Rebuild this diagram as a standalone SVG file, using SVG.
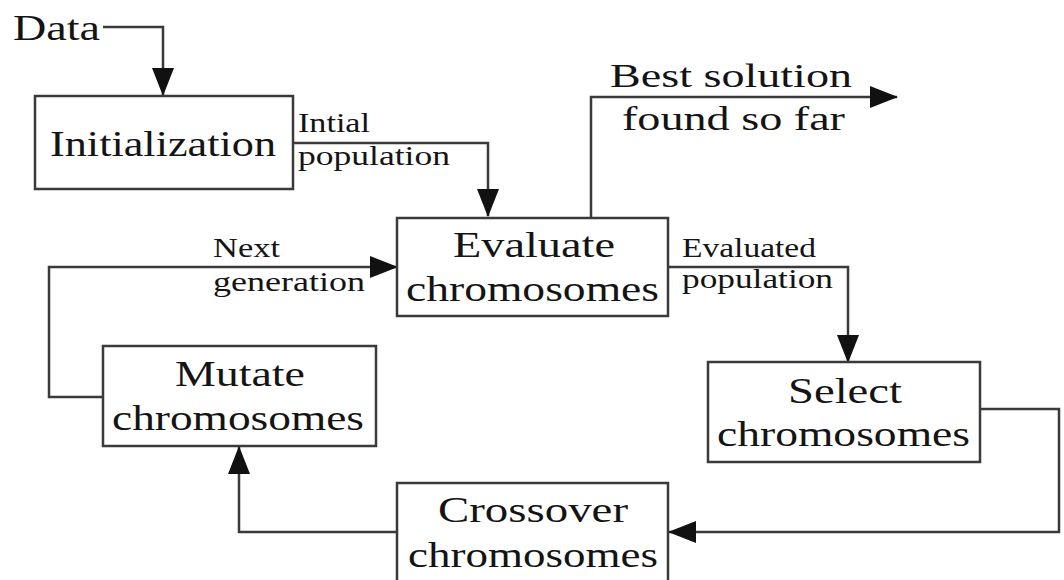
<svg xmlns="http://www.w3.org/2000/svg" width="1064" height="580" viewBox="0 0 1064 580">
  <defs>
    <style>
      .box { fill: #ffffff; stroke: #3a3a3a; stroke-width: 2.5; }
      .wire { fill: none; stroke: #3a3a3a; stroke-width: 2.5; }
      .node-text { font-family: "Liberation Serif", "Times New Roman", serif; font-size: 36px; fill: #141414; }
      .label { font-family: "Liberation Serif", "Times New Roman", serif; font-size: 27px; fill: #141414; }
      .big-label { font-family: "Liberation Serif", "Times New Roman", serif; font-size: 33px; fill: #141414; }
    </style>
    <marker id="arrow" markerUnits="userSpaceOnUse" markerWidth="28" markerHeight="22" refX="27" refY="11" orient="auto">
      <path d="M0,0 L28,11 L0,22 z" fill="#111111"/>
    </marker>
  </defs>

  <rect width="1064" height="580" fill="#ffffff"/>

  <!-- connectors -->
  <g id="connectors">
    <path class="wire" d="M103,27 H163 V95" marker-end="url(#arrow)"/>
    <path class="wire" d="M293,143 H488 V216" marker-end="url(#arrow)"/>
    <path class="wire" d="M591,218 V97 H897" marker-end="url(#arrow)"/>
    <path class="wire" d="M668,267 H848 V362" marker-end="url(#arrow)"/>
    <path class="wire" d="M980,409 H1059 V532 H669" marker-end="url(#arrow)"/>
    <path class="wire" d="M397,532 H239 V447" marker-end="url(#arrow)"/>
    <path class="wire" d="M103,397 H49 V267 H397" marker-end="url(#arrow)"/>
  </g>

  <!-- free labels -->
  <g id="labels">
    <text class="node-text" x="13" y="40" font-size="30" textLength="87" lengthAdjust="spacingAndGlyphs">Data</text>
    <text class="label" x="298" y="132" font-size="26" textLength="72" lengthAdjust="spacingAndGlyphs">Intial</text>
    <text class="label" x="298" y="165" font-size="26" textLength="152" lengthAdjust="spacingAndGlyphs">population</text>
    <text class="big-label" x="610" y="87" textLength="242" lengthAdjust="spacingAndGlyphs">Best solution</text>
    <text class="big-label" x="622" y="130" textLength="223" lengthAdjust="spacingAndGlyphs">found so far</text>
    <text class="label" x="682" y="257" textLength="134" lengthAdjust="spacingAndGlyphs">Evaluated</text>
    <text class="label" x="682" y="288" textLength="151" lengthAdjust="spacingAndGlyphs">population</text>
    <text class="label" x="213" y="257" textLength="67" lengthAdjust="spacingAndGlyphs">Next</text>
    <text class="label" x="213" y="291" textLength="152" lengthAdjust="spacingAndGlyphs">generation</text>
  </g>

  <!-- nodes -->
  <g id="initialization">
    <rect class="box" x="35" y="96" width="258" height="93"/>
    <text class="node-text" x="50" y="156" font-size="39" textLength="226" lengthAdjust="spacingAndGlyphs">Initialization</text>
  </g>

  <g id="evaluate">
    <rect class="box" x="397" y="218" width="271" height="98"/>
    <text class="node-text" x="453" y="257" textLength="162" lengthAdjust="spacingAndGlyphs">Evaluate</text>
    <text class="node-text" x="406" y="301" textLength="253" lengthAdjust="spacingAndGlyphs">chromosomes</text>
  </g>

  <g id="select">
    <rect class="box" x="708" y="362" width="272" height="100"/>
    <text class="node-text" x="788" y="403" font-size="35" textLength="114" lengthAdjust="spacingAndGlyphs">Select</text>
    <text class="node-text" x="717" y="446" font-size="35" textLength="253" lengthAdjust="spacingAndGlyphs">chromosomes</text>
  </g>

  <g id="crossover">
    <rect class="box" x="397" y="483" width="271" height="110"/>
    <text class="node-text" x="438" y="522" font-size="37" textLength="190" lengthAdjust="spacingAndGlyphs">Crossover</text>
    <text class="node-text" x="408" y="567" font-size="37" textLength="250" lengthAdjust="spacingAndGlyphs">chromosomes</text>
  </g>

  <g id="mutate">
    <rect class="box" x="103" y="346" width="273" height="100"/>
    <text class="node-text" x="175" y="386" font-size="35" textLength="130" lengthAdjust="spacingAndGlyphs">Mutate</text>
    <text class="node-text" x="112" y="430" font-size="35" textLength="252" lengthAdjust="spacingAndGlyphs">chromosomes</text>
  </g>
</svg>
